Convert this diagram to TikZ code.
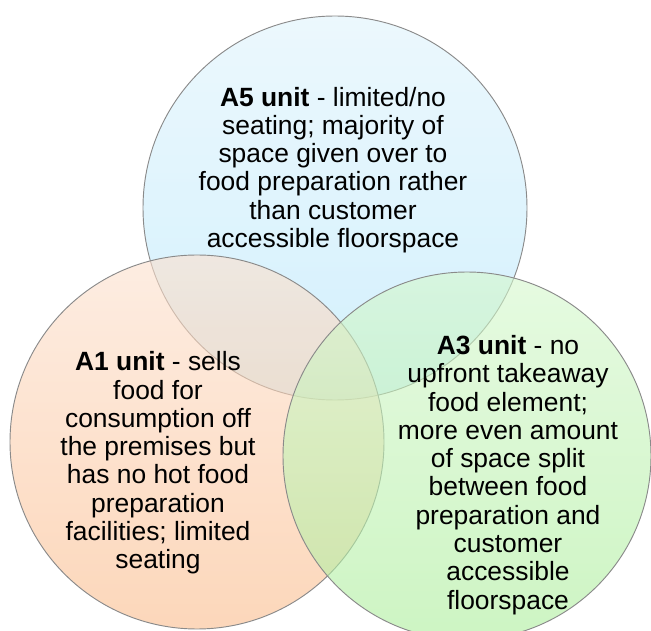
\documentclass[tikz,border=0pt]{standalone}
\usepackage{fontspec}
\setmainfont{Liberation Sans}
\usepackage{xcolor}

\definecolor{blueTop}{RGB}{223,243,252}
\definecolor{blueBot}{RGB}{180,230,250}
\definecolor{peachTop}{RGB}{252,225,207}
\definecolor{peachBot}{RGB}{250,188,140}
\definecolor{greenTop}{RGB}{213,247,205}
\definecolor{greenBot}{RGB}{172,238,155}
\definecolor{rimgray}{RGB}{138,138,138}

\begin{document}
\begin{tikzpicture}[x=0.75pt,y=-0.75pt]
\tikzstyle{unitcircle} = [circle, draw=rimgray, line width=0.7pt, fill opacity=0.6, inner sep=0pt]
\tikzstyle{unittext} = [align=center, inner sep=0pt, font=\fontsize{19.8}{21.2}\selectfont]

\useasboundingbox (0,0) rectangle (651,631);

\node(a5) [unitcircle, minimum size=288pt, top color=blueTop, bottom color=blueBot] at (335,208) {};
\node(a1) [unitcircle, minimum size=280.5pt, top color=peachTop, bottom color=peachBot] at (197,442) {};
\node(a3) [unitcircle, minimum size=276pt, top color=greenTop, bottom color=greenBot] at (467,456) {};

\node(a5text) [unittext] at (333,170) {\textbf{A5 unit} - limited/no\\
  seating; majority of\\ space given over to\\ food preparation rather\\
  than customer\\ accessible floorspace};
\node(a1text) [unittext] at (158,463) {\textbf{A1 unit} - sells\\ food for\\
  consumption off\\ the premises but\\ has no hot food\\ preparation\\
  facilities; limited\\ seating};
\node(a3text) [unittext] at (508,475) {\textbf{A3 unit} - no\\ upfront takeaway\\
  food element;\\ more even amount\\ of space split\\ between food\\
  preparation and\\ customer\\ accessible\\ floorspace};
\end{tikzpicture}
\end{document}
